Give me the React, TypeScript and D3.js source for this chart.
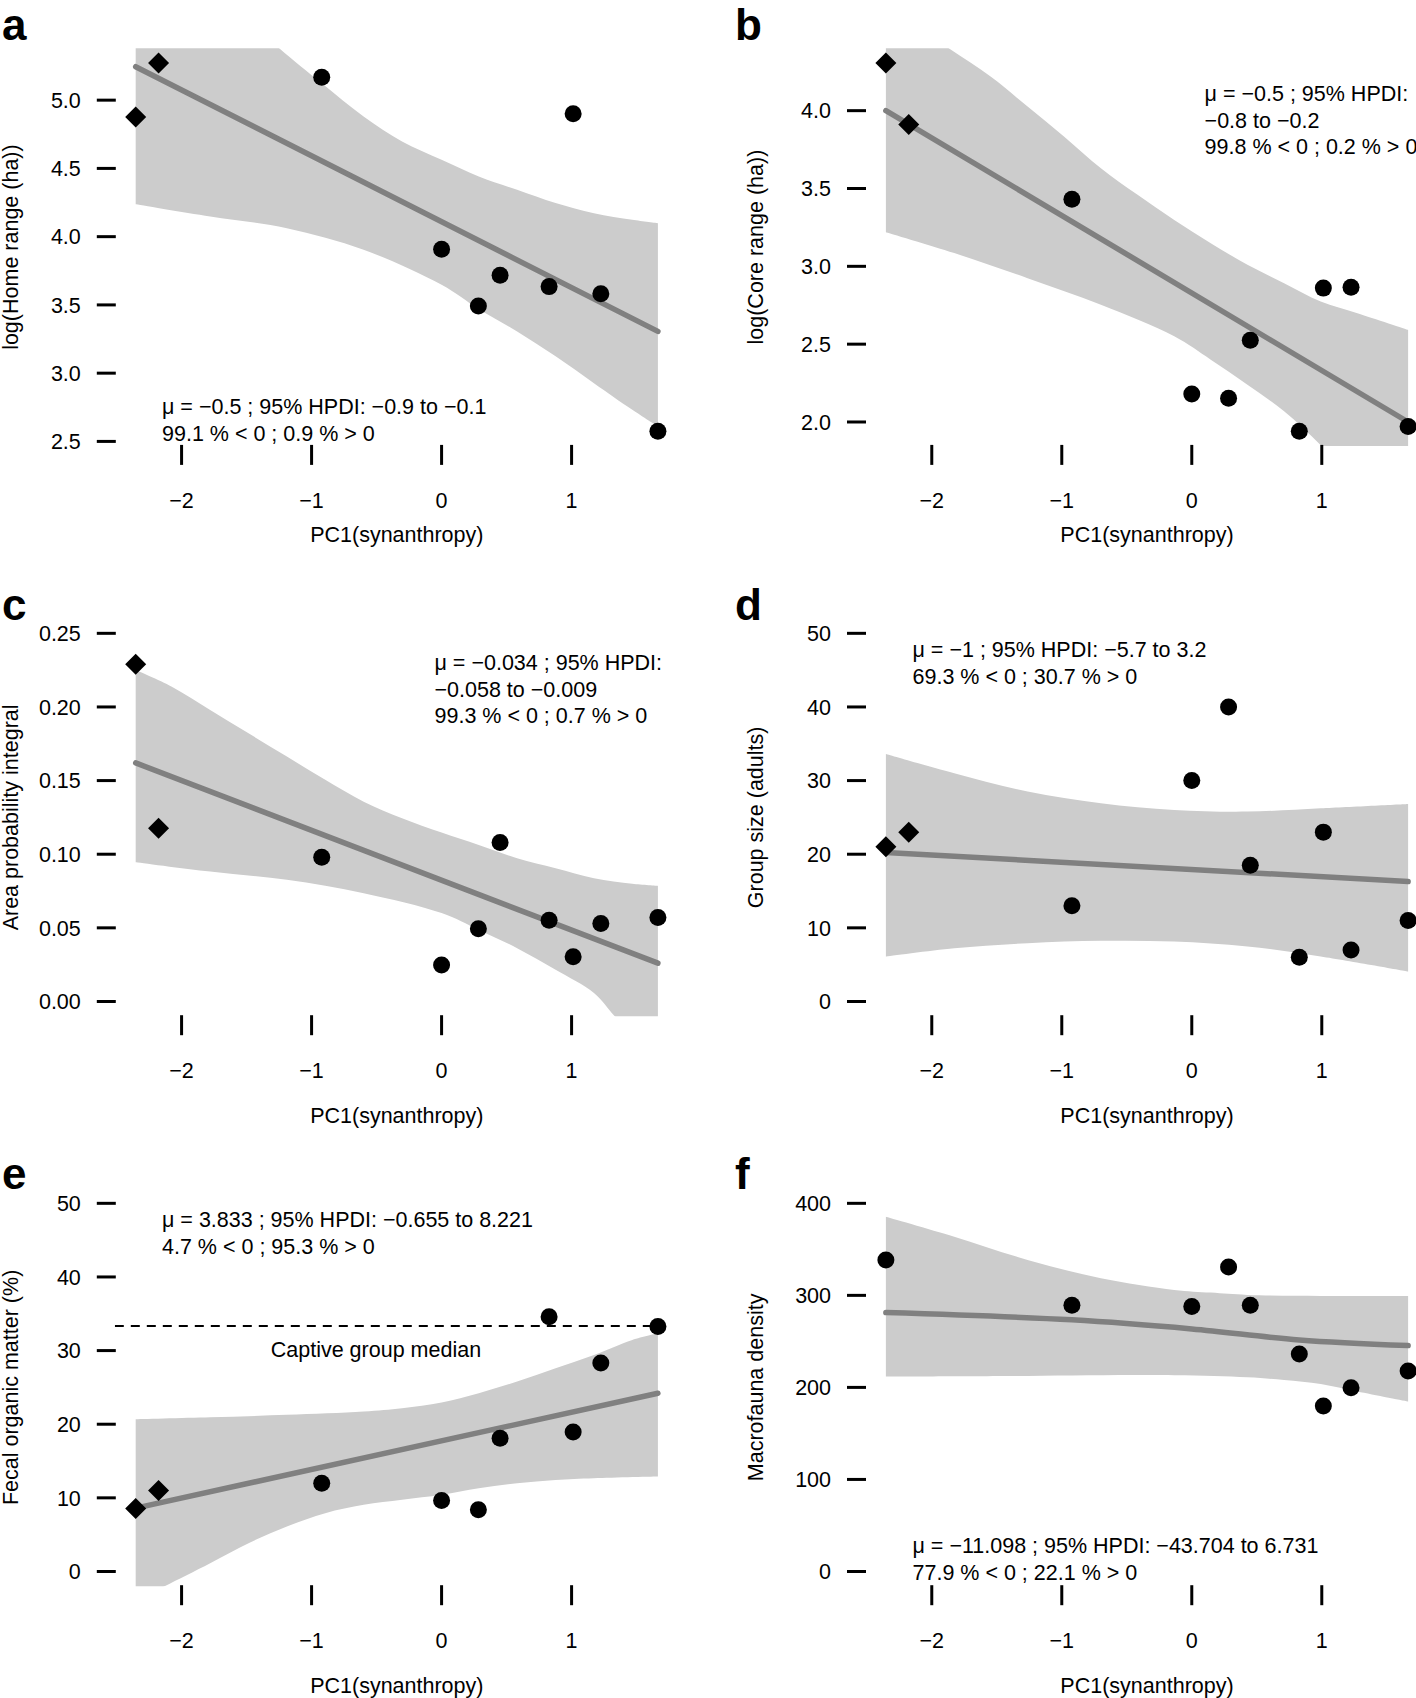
import React from 'react';
import * as d3 from 'd3';

const W = 1416;
const H = 1698;
const FONT = "'Liberation Sans', Arial, Helvetica, sans-serif";

// ---------- data ----------
const pc1 = [-2.353, -2.177, -0.922, 0.0, 0.283, 0.45, 0.827, 1.012, 1.225, 1.664];
const shapes = ['diamond', 'diamond', 'circle', 'circle', 'circle', 'circle', 'circle', 'circle', 'circle', 'circle'];
const pc1F = [-2.353, -0.922, 0.0, 0.283, 0.45, 0.827, 1.012, 1.225, 1.664];
const shapesF = ['circle', 'circle', 'circle', 'circle', 'circle', 'circle', 'circle', 'circle', 'circle'];

const homeRange = [4.877, 5.272, 5.167, 3.908, 3.492, 3.718, 3.634, 4.9, 3.582, 2.575];
const coreRange = [4.306, 3.911, 3.431, 2.18, 2.153, 2.525, 1.941, 2.86, 2.866, 1.971];
const areaProb = [0.229, 0.1176, 0.098, 0.0248, 0.0494, 0.108, 0.0552, 0.0303, 0.053, 0.057];
const groupSize = [21, 23, 13, 30, 40, 18.5, 6, 23, 7, 11];
const fecalOM = [8.55, 11.0, 11.98, 9.65, 8.38, 18.1, 34.6, 18.93, 28.3, 33.26];
const macrofauna = [338.3, 289.2, 287.8, 330.8, 289.2, 236.2, 179.9, 199.7, 217.7];
const captiveMedian = 33.35;

const xTicks = [-2, -1, 0, 1];
const ticksA = [2.5, 3.0, 3.5, 4.0, 4.5, 5.0];
const ticksB = [2.0, 2.5, 3.0, 3.5, 4.0];
const ticksC = [0, 0.05, 0.1, 0.15, 0.2, 0.25];
const ticksD = [0, 10, 20, 30, 40, 50];
const ticksE = [0, 10, 20, 30, 40, 50];
const ticksF = [0, 100, 200, 300, 400];

const meanA: [number, number][] = [[-2.353, 5.245], [1.664, 3.306]];
const meanB: [number, number][] = [[-2.353, 4.0], [1.664, 2.0]];
const meanC: [number, number][] = [[-2.353, 0.162], [1.664, 0.026]];
const meanD: [number, number][] = [[-2.353, 20.23], [1.664, 16.29]];
const meanE: [number, number][] = [[-2.353, 8.6], [1.664, 24.21]];
const meanF: [number, number][] = [[-2.353, 281.3], [-0.922, 273.4], [0, 263.5], [0.827, 251.6], [1.664, 245.4]];

const upperA: [number, number][] = [[-2.353, 6.3], [-1.8, 5.85], [-1.249, 5.38], [-0.924, 5.125], [-0.6, 4.88], [-0.304, 4.697], [0, 4.563], [0.286, 4.441], [0.581, 4.343], [0.877, 4.246], [1.172, 4.172], [1.467, 4.124], [1.664, 4.099]];
const lowerA: [number, number][] = [[-2.353, 4.238], [-1.78, 4.148], [-1.19, 4.062], [-0.6, 3.904], [0, 3.647], [0.286, 3.469], [0.581, 3.306], [0.877, 3.123], [1.172, 2.927], [1.467, 2.732], [1.664, 2.61]];
const upperB: [number, number][] = [[-2.353, 4.68], [-1.875, 4.404], [-1.545, 4.218], [-1.263, 4.026], [-0.981, 3.833], [-0.699, 3.63], [-0.417, 3.459], [-0.135, 3.298], [0.146, 3.149], [0.428, 3.01], [0.71, 2.892], [0.992, 2.774], [1.274, 2.699], [1.664, 2.592]];
const lowerB: [number, number][] = [[-2.353, 3.219], [-1.827, 3.085], [-1.263, 2.924], [-0.699, 2.753], [-0.135, 2.55], [0.146, 2.4], [0.428, 2.24], [0.71, 2.069], [1.0, 1.844], [1.3, 1.58], [1.664, 1.25]];
const upperC: [number, number][] = [[-2.353, 0.2251], [-2.075, 0.2138], [-1.78, 0.198], [-1.485, 0.1821], [-1.19, 0.1663], [-0.895, 0.1505], [-0.599, 0.1357], [-0.304, 0.1244], [0, 0.1147], [0.286, 0.1063], [0.581, 0.0973], [0.877, 0.0905], [1.172, 0.0837], [1.467, 0.0799], [1.664, 0.0785]];
const lowerC: [number, number][] = [[-2.353, 0.0946], [-1.78, 0.0882], [-1.19, 0.0826], [-0.599, 0.0735], [0, 0.06], [0.286, 0.0486], [0.581, 0.0362], [0.877, 0.0215], [1.172, 0.0057], [1.334, -0.0102], [1.664, -0.04]];
const upperD: [number, number][] = [[-2.353, 33.62], [-1.827, 31.0], [-1.263, 28.51], [-0.699, 26.92], [-0.135, 26.02], [0.428, 25.79], [0.992, 26.24], [1.664, 26.83]];
const lowerD: [number, number][] = [[-2.353, 6.11], [-1.827, 7.24], [-1.263, 7.92], [-0.699, 8.24], [-0.135, 8.14], [0.428, 7.47], [0.992, 6.11], [1.664, 4.07]];
const upperE: [number, number][] = [[-2.353, 20.68], [-1.78, 20.95], [-1.19, 21.27], [-0.599, 21.72], [-0.304, 22.17], [0, 22.94], [0.286, 24.21], [0.581, 25.79], [0.877, 27.6], [1.172, 29.41], [1.467, 31.45], [1.664, 32.35]];
const lowerE: [number, number][] = [[-2.353, -4.0], [-2.135, -2.04], [-1.78, 1.13], [-1.485, 3.85], [-1.19, 6.11], [-0.895, 7.92], [-0.599, 9.05], [-0.304, 9.73], [0, 10.41], [0.286, 11.31], [0.581, 11.99], [0.877, 12.44], [1.172, 12.67], [1.664, 12.9]];
const upperF: [number, number][] = [[-2.353, 385.5], [-1.827, 363.8], [-1.263, 338.5], [-0.699, 318.6], [-0.135, 305.9], [0.146, 303.0], [0.428, 300.5], [0.992, 299.4], [1.664, 299.4]];
const lowerF: [number, number][] = [[-2.353, 211.8], [-1.263, 212.5], [-0.135, 213.2], [0.428, 211.0], [0.71, 208.1], [0.992, 203.8], [1.274, 195.5], [1.664, 184.6]];

const statsA = ['\u03bc = \u22120.5 ; 95% HPDI: \u22120.9 to \u22120.1', '99.1 % < 0 ; 0.9 % > 0'];
const statsB = ['\u03bc = \u22120.5 ; 95% HPDI:', '\u22120.8 to \u22120.2', '99.8 % < 0 ; 0.2 % > 0'];
const statsC = ['\u03bc = \u22120.034 ; 95% HPDI:', '\u22120.058 to \u22120.009', '99.3 % < 0 ; 0.7 % > 0'];
const statsD = ['\u03bc = \u22121 ; 95% HPDI: \u22125.7 to 3.2', '69.3 % < 0 ; 30.7 % > 0'];
const statsE = ['\u03bc = 3.833 ; 95% HPDI: \u22120.655 to 8.221', '4.7 % < 0 ; 95.3 % > 0'];
const statsF = ['\u03bc = \u221211.098 ; 95% HPDI: \u221243.704 to 6.731', '77.9 % < 0 ; 22.1 % > 0'];

// ---------- layout ----------
const COL_LEFT = [114.8, 865.0];
const PLOT_W = 564;
const ROW_TOP = [48.3, 618.6, 1188.6];
const PLOT_H = 397.6;
const TITLE_OFF = [96, 107, 107];
const LETTER_BASE = [40, 620, 1189];
const FS = 21.5;

const fmtMinus = (s: string) => s.replace('-', '\u2212');

const panels = [
  { letter: 'a', col: 0, row: 0, xs: pc1, ys: homeRange, sh: shapes, yTicks: ticksA, fmt: (d: number) => d.toFixed(1), yLim: null, up: upperA, lo: lowerA, mean: meanA, ylab: 'log(Home range (ha))', stats: statsA, sx: 162, sy: 414 },
  { letter: 'b', col: 1, row: 0, xs: pc1, ys: coreRange, sh: shapes, yTicks: ticksB, fmt: (d: number) => d.toFixed(1), yLim: null, up: upperB, lo: lowerB, mean: meanB, ylab: 'log(Core range (ha))', stats: statsB, sx: 1204.6, sy: 101 },
  { letter: 'c', col: 0, row: 1, xs: pc1, ys: areaProb, sh: shapes, yTicks: ticksC, fmt: (d: number) => d.toFixed(2), yLim: [0, 0.25], up: upperC, lo: lowerC, mean: meanC, ylab: 'Area probability integral', stats: statsC, sx: 434.5, sy: 670 },
  { letter: 'd', col: 1, row: 1, xs: pc1, ys: groupSize, sh: shapes, yTicks: ticksD, fmt: (d: number) => String(d), yLim: [0, 50], up: upperD, lo: lowerD, mean: meanD, ylab: 'Group size (adults)', stats: statsD, sx: 912.5, sy: 657 },
  { letter: 'e', col: 0, row: 2, xs: pc1, ys: fecalOM, sh: shapes, yTicks: ticksE, fmt: (d: number) => String(d), yLim: [0, 50], up: upperE, lo: lowerE, mean: meanE, ylab: 'Fecal organic matter (%)', stats: statsE, sx: 162, sy: 1227 },
  { letter: 'f', col: 1, row: 2, xs: pc1F, ys: macrofauna, sh: shapesF, yTicks: ticksF, fmt: (d: number) => String(d), yLim: [0, 400], up: upperF, lo: lowerF, mean: meanF, ylab: 'Macrofauna density', stats: statsF, sx: 912.5, sy: 1553 },
];

const xExt = d3.extent(pc1) as [number, number];
const xPad = (xExt[1] - xExt[0]) * 0.04;
const X_DOMAIN = [xExt[0] - xPad, xExt[1] + xPad];

function Panel({ p }: { p: any }) {
  const left = COL_LEFT[p.col];
  const top = ROW_TOP[p.row];
  const bottom = top + PLOT_H;
  const x = d3.scaleLinear().domain(X_DOMAIN).range([left, left + PLOT_W]);
  const ext = p.yLim ?? (d3.extent(p.ys) as [number, number]);
  const pad = (ext[1] - ext[0]) * 0.04;
  const y = d3.scaleLinear().domain([ext[0] - pad, ext[1] + pad]).range([bottom, top]);
  const curve = d3.line<[number, number]>().x((d) => x(d[0])).y((d) => y(d[1])).curve(d3.curveCatmullRom.alpha(0.5));
  const upPath = curve(p.up) as string;
  const loPath = curve([...p.lo].reverse()) as string;
  const bandPath = upPath + loPath.replace(/^M/, 'L') + 'Z';
  const meanPath = curve(p.mean) as string;
  const clipId = 'clip-' + p.letter;
  const s = 10.5;
  const titleX = p.col === 0 ? 18 : 763;
  const midY = (top + bottom) / 2;
  return (
    <g>
      <defs>
        <clipPath id={clipId}>
          <rect x={left} y={top} width={PLOT_W} height={PLOT_H} />
        </clipPath>
      </defs>
      <g clipPath={`url(#${clipId})`}>
        <path d={bandPath} fill="#cccccc" stroke="none" />
        <path d={meanPath} fill="none" stroke="#808080" strokeWidth={5.5} strokeLinecap="round" />
        {p.letter === 'e' && (
          <line x1={left} x2={x(1.664)} y1={y(captiveMedian)} y2={y(captiveMedian)} stroke="#000" strokeWidth={2} strokeDasharray="9,7" />
        )}
      </g>
      {p.ys.map((v: number, i: number) => {
        const cx = x(p.xs[i]);
        const cy = y(v);
        return p.sh[i] === 'diamond' ? (
          <path key={i} d={`M${cx},${cy - s}L${cx + s},${cy}L${cx},${cy + s}L${cx - s},${cy}Z`} fill="#000" />
        ) : (
          <circle key={i} cx={cx} cy={cy} r={8.5} fill="#000" />
        );
      })}
      {p.yTicks.map((t: number) => (
        <g key={'y' + t}>
          <line x1={left - 18} x2={left + 1} y1={y(t)} y2={y(t)} stroke="#000" strokeWidth={3} />
          <text x={left - 34} y={y(t) + 7.7} textAnchor="end" fontSize={FS} fontFamily={FONT}>{p.fmt(t)}</text>
        </g>
      ))}
      {xTicks.map((t) => (
        <g key={'x' + t}>
          <line x1={x(t)} x2={x(t)} y1={bottom - 1} y2={bottom + 19} stroke="#000" strokeWidth={3} />
          <text x={x(t)} y={bottom + 62} textAnchor="middle" fontSize={FS} fontFamily={FONT}>{fmtMinus(String(t))}</text>
        </g>
      ))}
      <text x={left + PLOT_W / 2} y={bottom + TITLE_OFF[p.row]} textAnchor="middle" fontSize={FS} fontFamily={FONT}>
        PC1(synanthropy)
      </text>
      <text transform={`translate(${titleX},${midY}) rotate(-90)`} textAnchor="middle" fontSize={FS} fontFamily={FONT}>
        {p.ylab}
      </text>
      {p.stats.map((line: string, i: number) => (
        <text key={'s' + i} x={p.sx} y={p.sy + i * 26.5} fontSize={FS} fontFamily={FONT}>{line}</text>
      ))}
      {p.letter === 'e' && (
        <text x={x(-0.505)} y={y(captiveMedian) + 31} textAnchor="middle" fontSize={FS} fontFamily={FONT}>Captive group median</text>
      )}
      <text x={p.col === 0 ? 2 : 735} y={LETTER_BASE[p.row]} fontSize={44} fontWeight="bold" fontFamily={FONT}>{p.letter}</text>
    </g>
  );
}

export default function App() {
  return (
    <svg width={W} height={H} viewBox={`0 0 ${W} ${H}`} style={{ position: 'absolute', left: 0, top: 0, background: '#fff' }}>
      <rect x={0} y={0} width={W} height={H} fill="#fff" />
      {panels.map((p) => (
        <Panel key={p.letter} p={p} />
      ))}
    </svg>
  );
}
